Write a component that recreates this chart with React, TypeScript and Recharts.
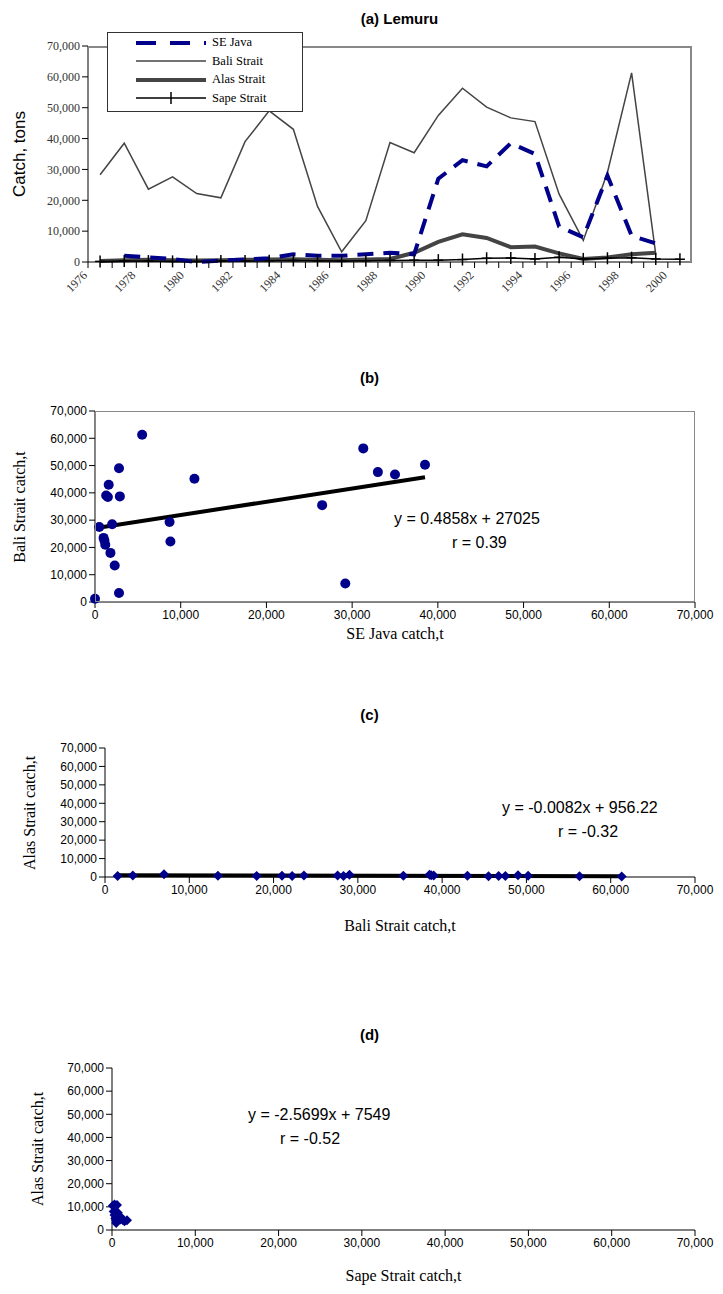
import React from 'react';
import { ComposedChart, Line, Scatter, XAxis, YAxis, CartesianGrid } from 'recharts';

const years = [1976,1977,1978,1979,1980,1981,1982,1983,1984,1985,1986,1987,1988,1989,1990,1991,1992,1993,1994,1995,1996,1997,1998,1999,2000];
const seJava = [null,2000,1500,1000,0,500,800,1200,2500,2000,2000,2500,3000,2500,27000,33000,31000,38500,35000,11500,8000,28000,8500,6000,null];
const bali = [28300,38500,23600,27600,22200,20800,39000,49000,43000,18000,3300,13400,38700,35400,47500,56300,50200,46700,45500,22000,7000,29000,61300,2500,null];
const alas = [300,600,700,600,500,600,700,800,900,700,600,800,1000,3000,6500,9000,7800,4800,5000,2800,1000,1500,2500,3000,null];
const sape = [200,300,300,200,200,300,300,400,500,400,300,400,500,600,600,800,1200,1300,1000,1500,1000,1200,1400,1000,900];

const bSeJava = [0,500,1000,1100,1200,1300,1500,1600,1800,2000,2300,2800,2800,2900,5500,8700,8800,11600,26500,29200,31300,33000,35000,38500];
const bBali = [1200,27500,23500,22500,21000,39000,38500,43000,18000,28500,13400,49000,3300,38700,61300,29300,22200,45200,35500,6800,56300,47600,46700,50300];

const cBali = [1500,3300,7000,13400,18000,21000,22200,23600,27600,28300,29000,35400,38500,38700,39000,43000,45500,46700,47500,49000,50200,56300,61300];
const cAlas = [600,800,1500,700,600,700,500,800,800,600,1200,700,1200,900,800,700,400,500,600,900,700,400,300];

const dSape = [100,200,300,300,400,500,500,600,700,800,900,1000,1200,1300,1500,1800];
const dAlas = [10500,8000,6500,11000,5000,4000,3000,10800,7500,4800,6000,4500,5000,4300,3800,4200];

const yTicks = [0,10000,20000,30000,40000,50000,60000,70000];
const fmt = (v: number) => v.toLocaleString('en-US');
const NAVY = '#00008B';

const lineData = years.map((y, i) => ({ x: y + 0.5, se: seJava[i], bali: bali[i], alas: alas[i], sape: sape[i] }));
const bData = bSeJava.map((x, i) => ({ x, y: bBali[i] }));
const bTrend = [0, 38500].map(x => ({ x, t: 0.4858 * x + 27025 }));
const cData = cBali.map((x, i) => ({ x, y: cAlas[i] }));
const cTrend = [1500, 61300].map(x => ({ x, t: -0.0082 * x + 956.22 }));
const dData = dSape.map((x, i) => ({ x, y: dAlas[i] }));
const dTrend = [100, 1800].map(x => ({ x, t: -2.5699 * x + 7549 }));

const Plus = (p: any) => {
  if (p.cx == null || p.cy == null || p.value == null) return null;
  return <g><line x1={p.cx - 5} x2={p.cx + 5} y1={p.cy} y2={p.cy} stroke="#000" strokeWidth={1.5} /><line x1={p.cx} x2={p.cx} y1={p.cy - 6} y2={p.cy + 6} stroke="#000" strokeWidth={1.5} /></g>;
};
const Diamond = (p: any) => <path d={`M${p.cx},${p.cy - 5}L${p.cx + 5},${p.cy}L${p.cx},${p.cy + 5}L${p.cx - 5},${p.cy}Z`} fill={NAVY} />;
const Circle = (p: any) => <circle cx={p.cx} cy={p.cy} r={5} fill={NAVY} />;

const serif = '"Liberation Serif", "DejaVu Serif", serif';
const sans = '"Liberation Sans", Arial, sans-serif';

const YearTick = (p: any) => {
  const v = p.payload.value;
  if (v % 2 !== 0) return null;
  return <text x={p.x} y={p.y + 6} transform={`rotate(-45 ${p.x} ${p.y + 6})`} textAnchor="end" fontSize={12} fontFamily={serif} fill="#333">{v}</text>;
};

const abs = (l: number, t: number): React.CSSProperties => ({ position: 'absolute', left: l, top: t });
const txt = (l: number, t: number, extra: React.CSSProperties = {}): React.CSSProperties => ({ position: 'absolute', left: l, top: t, whiteSpace: 'nowrap', ...extra });

function VLabel({ x, y, children, font, size }: any) {
  return (
    <div style={{ position: 'absolute', left: x, top: y, transform: 'rotate(-90deg)', transformOrigin: 'left top', whiteSpace: 'nowrap' }}>
      <div style={{ transform: 'translateX(-50%)', fontFamily: font, fontSize: size, lineHeight: '20px' }}>{children}</div>
    </div>
  );
}

function ScatterPanel({ top, h, left, data, trend, xTicks, frame, shape, title, xlabel, ylabel, eq, r, eqPos, rPos, xlY, ylX }: any) {
  return (
    <>
      <div style={txt(0, top - 42, { width: 723, textAlign: 'center', fontFamily: sans, fontWeight: 'bold', fontSize: 15 })}>{title}</div>
      <div style={abs(0, top - 10)}>
        <ComposedChart width={715} height={h + 40} data={trend} margin={{ top: 10, right: 715 - 687, left: left - 62, bottom: 0 }}>
          <XAxis type="number" dataKey="x" domain={[0, 70000]} ticks={xTicks} interval={0} tickFormatter={fmt} stroke="#000" tick={{ fontFamily: sans, fontSize: 12, fill: '#000' }} height={30} />
          <YAxis type="number" domain={[0, 70000]} ticks={yTicks} interval={0} tickFormatter={fmt} stroke="#000" width={62} tick={{ fontFamily: sans, fontSize: 12, fill: '#000' }} />
          <Scatter data={data} dataKey="y" shape={shape} isAnimationActive={false} />
          <Line dataKey="t" stroke="#000" strokeWidth={4} dot={false} isAnimationActive={false} />
        </ComposedChart>
      </div>
      {frame && <div style={{ position: 'absolute', left: left, top: top, width: 687 - left, height: h, border: '1px solid #888', boxSizing: 'border-box', pointerEvents: 'none' }} />}
      <div style={txt(left, xlY - 10, { width: 687 - left, textAlign: 'center', fontFamily: serif, fontSize: 16 })}>{xlabel}</div>
      <VLabel x={ylX} y={top + h / 2} font={serif} size={16}>{ylabel}</VLabel>
      <div style={txt(eqPos[0], eqPos[1], { fontFamily: sans, fontSize: 16 })}>{eq}</div>
      <div style={txt(rPos[0], rPos[1], { fontFamily: sans, fontSize: 16 })}>{r}</div>
    </>
  );
}

export default function App() {
  const xt = [0,10000,20000,30000,40000,50000,60000,70000];
  return (
    <div style={{ position: 'relative', width: 715, height: 1286, background: '#fff' }}>
      <div style={txt(0, 2, { width: 723, textAlign: 'center', fontFamily: sans, fontWeight: 'bold', fontSize: 15, paddingLeft: 30 })}>(a) Lemuru</div>
      <div style={abs(0, 28)}>
        <ComposedChart width={715} height={278} data={lineData} margin={{ top: 10, right: 715 - 684, left: 20, bottom: 0 }}>
          <XAxis type="number" dataKey="x" domain={[1976, 2001]} ticks={years} interval={0} stroke="#000" tick={<YearTick />} height={52} />
          <YAxis type="number" domain={[0, 70000]} ticks={yTicks} tickFormatter={fmt} stroke="#000" width={60} tick={{ fontFamily: serif, fontSize: 12, fill: '#333' }} />
          <Line dataKey="bali" stroke="#444" strokeWidth={1.5} dot={false} isAnimationActive={false} />
          <Line dataKey="alas" stroke="#444" strokeWidth={4} dot={false} isAnimationActive={false} />
          <Line dataKey="sape" stroke="#000" strokeWidth={1.5} dot={<Plus />} isAnimationActive={false} />
          <Line dataKey="se" stroke={NAVY} strokeWidth={4} strokeDasharray="16 10" dot={false} isAnimationActive={false} />
        </ComposedChart>
      </div>
      <div style={{ position: 'absolute', left: 80, top: 38, width: 604, height: 216, borderTop: '2px solid #888', borderRight: '2px solid #888', boxSizing: 'border-box', pointerEvents: 'none' }} />
      <VLabel x={2} y={146} font={sans} size={17}>Catch, tons</VLabel>
      <div style={{ position: 'absolute', left: 99, top: 24, width: 194, height: 78, border: '1px solid #333', background: '#fff', fontFamily: serif, fontSize: 12.5 }}>
        {[
          ['SE Java', <line key="a" x1={2} x2={72} y1={6} y2={6} stroke={NAVY} strokeWidth={4} strokeDasharray="20 14" />],
          ['Bali Strait', <line key="b" x1={2} x2={72} y1={6} y2={6} stroke="#444" strokeWidth={1.5} />],
          ['Alas Strait', <line key="c" x1={2} x2={72} y1={6} y2={6} stroke="#444" strokeWidth={4} />],
          ['Sape Strait', <g key="d"><line x1={2} x2={72} y1={6} y2={6} stroke="#000" strokeWidth={1.5} /><line x1={37} x2={37} y1={0} y2={12} stroke="#000" strokeWidth={1.5} /></g>],
        ].map(([label, icon]: any, i) => (
          <div key={i} style={{ position: 'absolute', left: 26, top: 2 + i * 18.5, display: 'flex', alignItems: 'center' }}>
            <svg width={76} height={12}>{icon}</svg><span style={{ marginLeft: 2 }}>{label}</span>
          </div>
        ))}
      </div>

      <ScatterPanel top={403} h={191} left={87} data={bData} trend={bTrend} xTicks={xt} frame shape={<Circle />}
        title="(b)" xlabel="SE Java catch,t" ylabel="Bali Strait catch,t" eq="y = 0.4858x + 27025" r="r = 0.39" eqPos={[386, 502]} rPos={[444, 526]} xlY={627} ylX={2} />
      <ScatterPanel top={740} h={129} left={97} data={cData} trend={cTrend} xTicks={xt} frame={false} shape={<Diamond />}
        title="(c)" xlabel="Bali Strait catch,t" ylabel="Alas Strait catch,t" eq="y = -0.0082x + 956.22" r="r = -0.32" eqPos={[494, 791]} rPos={[550, 815]} xlY={919} ylX={12} />
      <ScatterPanel top={1060} h={162} left={104} data={dData} trend={dTrend} xTicks={xt} frame={false} shape={<Diamond />}
        title="(d)" xlabel="Sape Strait catch,t" ylabel="Alas Strait catch,t" eq="y = -2.5699x + 7549" r="r = -0.52" eqPos={[240, 1098]} rPos={[272, 1122]} xlY={1269} ylX={20} />
    </div>
  );
}
